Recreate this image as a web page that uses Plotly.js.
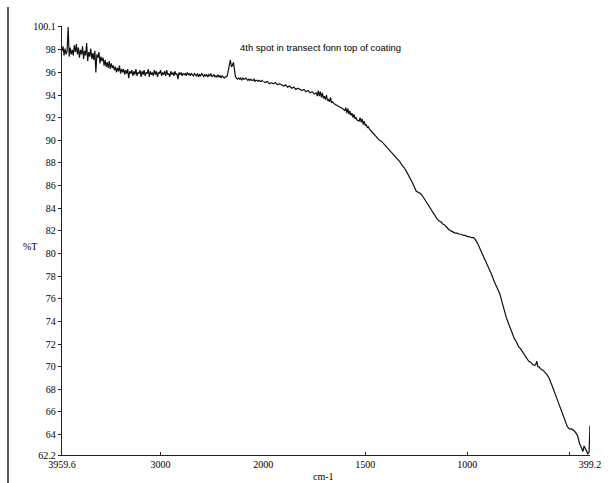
<!DOCTYPE html>
<html>
<head>
<meta charset="utf-8">
<script src="https://cdn.plot.ly/plotly-3.0.1.min.js"></script>
<style>html,body{margin:0;padding:0;background:#fff;}#chart{width:608px;height:483px;}</style>
</head>
<body>
<div id="chart"></div>
<script>
// High-wavenumber part (3959.6 -> 1999.6 cm-1, every 10 cm-1), %T
var startHigh = 3959.6;
var stepHigh = -10;
var transHigh = [
  97.9, 98.3, 97.5, 98.1, 97.6, 97.9, 100.0, 97.4, 98.2, 97.6,
  98.0, 97.5, 98.4, 97.8, 98.5, 97.6, 98.2, 97.3, 98.0, 97.6,
  98.3, 97.2, 97.9, 97.5, 98.6, 97.0, 97.8, 97.4, 98.1, 97.2,
  97.7, 97.1, 97.9, 96.0, 97.6, 97.3, 97.8, 96.8, 97.4, 97.0,
  97.3, 96.6, 97.1, 96.5, 96.9, 96.4, 97.0, 96.3, 96.8, 96.4,
  96.6, 96.2, 96.5, 96.0, 96.4, 96.1, 96.6, 95.9, 96.3, 96.0,
  96.3, 95.8, 96.2, 95.9, 96.3, 95.5, 96.1, 95.9, 96.2, 95.7,
  96.1, 95.8, 96.3, 95.7, 96.0, 95.9, 96.2, 95.6, 96.1, 95.8,
  96.2, 95.7, 96.0, 95.9, 96.3, 95.6, 96.1, 95.8, 96.0, 95.7,
  96.2, 95.8, 96.1, 95.6, 96.0, 95.9, 96.2, 95.7, 96.0, 95.8,
  96.1, 95.7, 96.2, 95.8, 95.9, 95.6, 96.1, 95.8, 96.0, 95.7,
  96.1, 95.8, 95.9, 95.4, 96.0, 95.8, 96.0, 95.7, 95.9, 95.8,
  95.9, 95.7, 96.0, 95.8, 95.9, 95.7, 95.9, 95.8, 95.7, 95.9,
  95.8, 95.7, 95.9, 95.6, 95.8, 95.7, 95.9, 95.8, 95.6, 95.8,
  95.7, 95.8, 95.6, 95.8, 95.7, 95.9, 95.6, 95.7, 95.8, 95.6,
  95.7, 95.6, 95.8, 95.6, 95.7, 95.5, 95.7, 95.6, 95.5, 95.6,
  95.6, 95.7, 96.2, 96.8, 97.1, 96.5, 96.6, 96.9, 96.0, 95.6,
  95.5, 95.4, 95.5, 95.4, 95.5, 95.3, 95.5, 95.4, 95.4, 95.5,
  95.4, 95.3, 95.4, 95.3, 95.4, 95.3, 95.3, 95.4, 95.2, 95.3,
  95.3, 95.2, 95.3, 95.2, 95.2, 95.3, 95.2
];

// Low-wavenumber part (2000 -> 399.2 cm-1)
var wnLow = [
  2000, 1990, 1980, 1970, 1960, 1950, 1940, 1930, 1920, 1910,
  1900, 1890, 1880, 1870, 1860, 1850, 1840, 1830, 1820, 1810,
  1800, 1790, 1780, 1770, 1760, 1750, 1740, 1735, 1730, 1725,
  1720, 1715, 1710, 1705, 1700, 1695, 1690, 1685, 1680, 1675,
  1670, 1665, 1660, 1650, 1640, 1630, 1620, 1610, 1600, 1595,
  1590, 1585, 1580, 1575, 1570, 1565, 1560, 1555, 1550, 1545,
  1540, 1530, 1525, 1520, 1515, 1510, 1505, 1500, 1495, 1490,
  1485, 1480, 1470, 1460, 1450, 1440, 1430, 1420, 1410, 1400,
  1390, 1380, 1370, 1360, 1350, 1340, 1330, 1320, 1310, 1300,
  1290, 1280, 1270, 1260, 1250, 1240, 1230, 1220, 1210, 1200,
  1190, 1180, 1170, 1160, 1150, 1140, 1130, 1120, 1110, 1100,
  1090, 1080, 1070, 1060, 1050, 1040, 1030, 1020, 1010, 1000,
  990, 980, 970, 960, 950, 940, 930, 920, 910, 900,
  890, 880, 870, 860, 850, 840, 830, 820, 810, 800,
  790, 780, 770, 760, 750, 740, 730, 720, 710, 700,
  690, 680, 670, 665, 660, 655, 650, 640, 630, 620,
  610, 600, 590, 580, 570, 560, 550, 540, 530, 520,
  510, 500, 490, 480, 470, 460, 450, 440, 434, 428,
  422, 416, 410, 404, 399.2
];
var transLow = [
  95.2, 95.1, 95.2, 95.0, 95.1, 95.0, 95.1, 94.9, 95.0, 94.9,
  94.8, 94.9, 94.7, 94.8, 94.6, 94.7, 94.5, 94.6, 94.5, 94.4,
  94.5, 94.3, 94.4, 94.2, 94.3, 94.1, 94.2, 93.9, 94.4, 93.9,
  94.3, 93.8, 94.2, 93.7, 93.9, 93.6, 94.0, 93.5, 93.6, 93.4,
  93.8, 93.3, 93.4, 93.2, 93.1, 93.0, 92.9, 92.8, 92.6, 92.9,
  92.4, 92.8, 92.3, 92.6, 92.2, 92.4, 92.0, 92.3, 91.9, 92.0,
  91.8, 91.7, 92.0, 91.6, 91.9, 91.4, 91.7, 91.3, 91.4, 91.1,
  91.2, 91.0, 90.8, 90.6, 90.4, 90.2, 90.0, 89.9, 89.7, 89.5,
  89.3, 89.1, 88.9, 88.7, 88.5, 88.3, 88.1, 87.8, 87.6, 87.3,
  87.0, 86.6, 86.3, 85.9, 85.5, 85.4, 85.3, 85.1, 84.8, 84.5,
  84.2, 83.9, 83.7, 83.4, 83.1, 82.9, 82.8, 82.6, 82.5, 82.3,
  82.1, 82.0, 81.9, 81.8, 81.8, 81.7, 81.7, 81.6, 81.6, 81.5,
  81.5, 81.4, 81.4, 81.2, 80.9, 80.5, 80.1, 79.8, 79.4, 79.0,
  78.5, 78.1, 77.6, 77.2, 76.8, 76.4, 75.7, 75.0, 74.4, 73.9,
  73.4, 72.9, 72.5, 72.2, 71.8, 71.6, 71.3, 71.0, 70.8, 70.5,
  70.4, 70.2, 70.1, 70.2, 70.5, 70.0, 70.0, 69.8, 69.7, 69.5,
  69.3, 69.0, 68.6, 68.1, 67.6, 67.1, 66.6, 66.1, 65.6, 65.2,
  64.7, 64.5, 64.5, 64.4, 64.2, 63.9, 63.2, 62.8, 62.5, 63.0,
  62.8, 62.6, 62.3, 62.4, 64.8
];

var yTickVals = [100.1, 98, 96, 94, 92, 90, 88, 86, 84, 82, 80, 78, 76, 74, 72, 70, 68, 66, 64, 62.2];
var yTickText = ['100.1', '98', '96', '94', '92', '90', '88', '86', '84', '82', '80', '78', '76', '74', '72', '70', '68', '66', '64', '62.2'];
var xHighTickVals = [3959.6, 3000];
var xHighTickText = ['3959.6', '3000'];
var xLowTickVals = [2000, 1500, 1000, 500, 399.2];
var xLowTickText = ['2000', '1500', '1000', '', '399.2'];

var titleText = '4th spot in transect fonn top of coating';
var xTitle = 'cm-1';
var yTitle = '%T';

var lineStyle = {color: '#111', width: 1.2};
var tickFont = {family: 'Liberation Serif, Times New Roman, serif', size: 10, color: '#000'};

var traces = [
  {type: 'scatter', mode: 'lines', x0: startHigh, dx: stepHigh, y: transHigh,
   xaxis: 'x', yaxis: 'y', line: lineStyle, hoverinfo: 'skip'},
  {type: 'scatter', mode: 'lines', x: wnLow, y: transLow,
   xaxis: 'x2', yaxis: 'y', line: lineStyle, hoverinfo: 'skip'}
];

var split = 0.381;
var layout = {
  width: 608, height: 483,
  margin: {l: 62, r: 18, t: 26, b: 28},
  paper_bgcolor: '#ffffff', plot_bgcolor: '#ffffff',
  showlegend: false,
  xaxis: {
    domain: [0, split], range: [3959.6, 2000],
    showgrid: false, zeroline: false,
    showline: true, linecolor: '#222', linewidth: 1.3,
    ticks: 'inside', ticklen: 3, tickcolor: '#222',
    tickmode: 'array', tickvals: xHighTickVals, ticktext: xHighTickText,
    tickfont: tickFont, anchor: 'y'
  },
  xaxis2: {
    domain: [split, 1], range: [2000, 399.2],
    showgrid: false, zeroline: false,
    showline: true, linecolor: '#222', linewidth: 1.3,
    ticks: 'inside', ticklen: 3, tickcolor: '#222',
    tickmode: 'array', tickvals: xLowTickVals, ticktext: xLowTickText,
    tickfont: tickFont, anchor: 'y'
  },
  yaxis: {
    range: [62.2, 100.1],
    showgrid: false, zeroline: false,
    showline: true, linecolor: '#222', linewidth: 1.3,
    ticks: 'outside', ticklen: 3, tickcolor: '#222',
    tickmode: 'array', tickvals: yTickVals, ticktext: yTickText,
    tickfont: tickFont, anchor: 'x'
  },
  annotations: [
    {text: titleText, xref: 'paper', yref: 'paper', x: 0.49, y: 0.95,
     xanchor: 'center', yanchor: 'middle', showarrow: false,
     font: {family: 'Liberation Sans, Arial, sans-serif', size: 9.5, color: '#000'}},
    {text: xTitle, xref: 'paper', yref: 'paper', x: 0.496, y: -0.049,
     xanchor: 'center', yanchor: 'middle', showarrow: false,
     font: {family: 'Liberation Serif, Times New Roman, serif', size: 10, color: '#000'}},
    {text: yTitle, xref: 'paper', yref: 'paper', x: -0.06, y: 0.485,
     xanchor: 'center', yanchor: 'middle', showarrow: false,
     font: {family: 'Liberation Serif, Times New Roman, serif', size: 10, color: '#000'}}
  ],
  shapes: [
    {type: 'line', xref: 'paper', yref: 'paper', x0: -0.1023, x1: -0.1023, y0: 1.044, y1: -0.065,
     line: {color: '#222', width: 1.5}}
  ]
};

Plotly.newPlot('chart', traces, layout, {displayModeBar: false, staticPlot: true});
</script>
</body>
</html>
